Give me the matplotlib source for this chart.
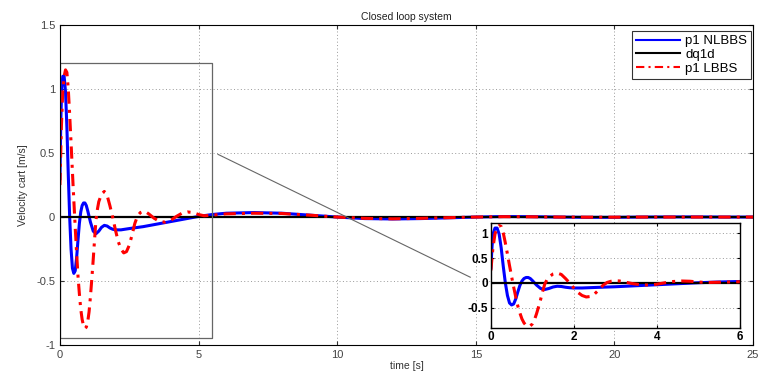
import matplotlib
matplotlib.use("Agg")
import matplotlib.pyplot as plt

plt.rcParams.update({
    "font.family": ["Liberation Sans", "DejaVu Sans"],
    "font.size": 7.5,
})

# NLBBS response (blue)
t_nl = [0, 0.03, 0.06, 0.1, 0.15, 0.2, 0.25, 0.3, 0.35, 0.4, 0.45, 0.5, 0.55, 0.6,
        0.65, 0.7, 0.75, 0.8, 0.85, 0.9, 0.95, 1.0, 1.1, 1.2, 1.3, 1.4, 1.5, 1.6,
        1.7, 1.8, 1.9, 2.0, 2.2, 2.5, 3.0, 3.5, 4.0, 4.5, 5.0, 5.5, 6, 7, 8, 9,
        10, 11, 12, 13, 14, 15, 16, 17, 18, 19, 20, 21, 22, 23, 24, 25]
v_nl = [0.3, 0.75, 1.0, 1.1, 1.1, 0.98, 0.7, 0.33, 0.0, -0.25, -0.4, -0.44, -0.42, -0.32,
        -0.18, -0.05, 0.04, 0.09, 0.11, 0.11, 0.09, 0.05, -0.04, -0.11, -0.13, -0.11, -0.08, -0.065,
        -0.07, -0.085, -0.095, -0.1, -0.1, -0.09, -0.075, -0.055, -0.035, -0.015, 0.005, 0.02, 0.03, 0.035, 0.03, 0.015,
        0.0, -0.012, -0.015, -0.012, -0.006, 0.0, 0.004, 0.003, 0.0, -0.002, -0.002, 0.0, 0.001, 0.001, 0.0, 0.0]

# LBBS response (red)
t_lb = [0, 0.05, 0.1, 0.15, 0.2, 0.25, 0.3, 0.35, 0.4, 0.45, 0.5, 0.55, 0.6, 0.65,
        0.7, 0.75, 0.8, 0.85, 0.9, 0.95, 1.0, 1.05, 1.1, 1.15, 1.2, 1.25, 1.3, 1.35,
        1.4, 1.5, 1.6, 1.7, 1.8, 1.9, 2.0, 2.1, 2.2, 2.3, 2.4, 2.5, 2.6, 2.7, 2.8,
        2.9, 3.0, 3.1, 3.2, 3.4, 3.6, 3.8, 4.0, 4.2, 4.4, 4.6, 4.8, 5.0, 5.2, 5.5,
        6, 7, 8, 9, 10, 11, 12, 13, 14, 15, 16, 17, 18, 19, 20, 21, 22, 23, 24, 25]
v_lb = [0.25, 0.7, 0.98, 1.1, 1.15, 1.13, 1.0, 0.8, 0.58, 0.35, 0.13, -0.08, -0.28, -0.46,
        -0.6, -0.72, -0.8, -0.85, -0.87, -0.86, -0.82, -0.74, -0.62, -0.48, -0.33, -0.17, -0.02, 0.06,
        0.12, 0.18, 0.2, 0.17, 0.09, 0.0, -0.1, -0.19, -0.25, -0.28, -0.27, -0.22, -0.14, -0.05, 0.01,
        0.035, 0.045, 0.04, 0.025, -0.01, -0.035, -0.04, -0.025, 0.005, 0.03, 0.04, 0.035, 0.02, 0.01, 0.015,
        0.025, 0.03, 0.028, 0.015, 0.0, -0.01, -0.014, -0.01, -0.005, 0.0, 0.003, 0.002, 0.0, -0.001, -0.001, 0.0, 0.0, 0.0, 0.0, 0.0]

# reference dq1d
t_ref = [0, 25]
v_ref = [0, 0]

BLUE = "#0000ff"
RED = "#ff0000"
GRID = dict(color="#999999", linestyle=(0, (1, 2.5)), linewidth=0.7)

fig = plt.figure(figsize=(7.61, 3.80), dpi=100)
ax = fig.add_axes([0.0788, 0.092, 0.9107, 0.842])


def draw(a):
    a.plot(t_nl, v_nl, color=BLUE, linewidth=2.2, label="p1 NLBBS")
    a.plot(t_ref, v_ref, color="black", linewidth=1.6, label="dq1d")
    a.plot(t_lb, v_lb, color=RED, linewidth=2.2, linestyle=(0, (4, 2, 1, 2)), label="p1 LBBS")


draw(ax)
ax.set_xlim(0, 25)
ax.set_ylim(-1, 1.5)
ax.set_xticks([0, 5, 10, 15, 20, 25])
ax.set_yticks([-1, -0.5, 0, 0.5, 1, 1.5])
ax.set_yticklabels(["-1", "-0.5", "0", "0.5", "1", "1.5"])
ax.grid(True, **GRID)
ax.tick_params(direction="in", top=True, right=True, length=3, colors="#333333",
               labelcolor="#444444", labelsize=8)
for s in ax.spines.values():
    s.set_linewidth(0.8)
ax.set_title("Closed loop system", fontsize=7.5, pad=4, color="#222222")
ax.set_xlabel("time [s]", fontsize=7.5, labelpad=1, color="#333333")
ax.set_ylabel("Velocity cart [m/s]", fontsize=7.5, labelpad=6, color="#333333")

leg = ax.legend(loc="upper right", fontsize=9.5, frameon=True, fancybox=False,
                handlelength=3.4, borderaxespad=0, labelspacing=0.12,
                borderpad=0.3, handletextpad=0.35,
                bbox_to_anchor=(751 / 761, 1 - 31 / 380), bbox_transform=fig.transFigure)
leg.get_frame().set_edgecolor("black")
leg.get_frame().set_linewidth(0.8)
for h in leg.get_lines():
    h.set_linewidth(1.5)

# zoom rectangle and connector
ax.plot([0, 5.5, 5.5, 0, 0], [1.2, 1.2, -0.945, -0.945, 1.2], color="#666666", linewidth=0.9)
ax.plot([5.7, 14.8], [0.49, -0.47], color="#666666", linewidth=0.8)

# inset
ins = fig.add_axes([0.645, 0.137, 0.327, 0.276])
draw(ins)
ins.set_xlim(0, 6)
ins.set_ylim(-0.9, 1.2)
ins.set_xticks([0, 2, 4, 6])
ins.set_yticks([-0.5, 0, 0.5, 1])
ins.set_yticklabels(["-0.5", "0", "0.5", "1"])
ins.grid(True, **GRID)
ins.tick_params(direction="in", top=True, right=True, length=2.5, labelsize=8.5, pad=2)
for lab in ins.get_xticklabels() + ins.get_yticklabels():
    lab.set_fontweight("bold")
for s in ins.spines.values():
    s.set_linewidth(1.0)

fig.savefig("out.png", dpi=100)
